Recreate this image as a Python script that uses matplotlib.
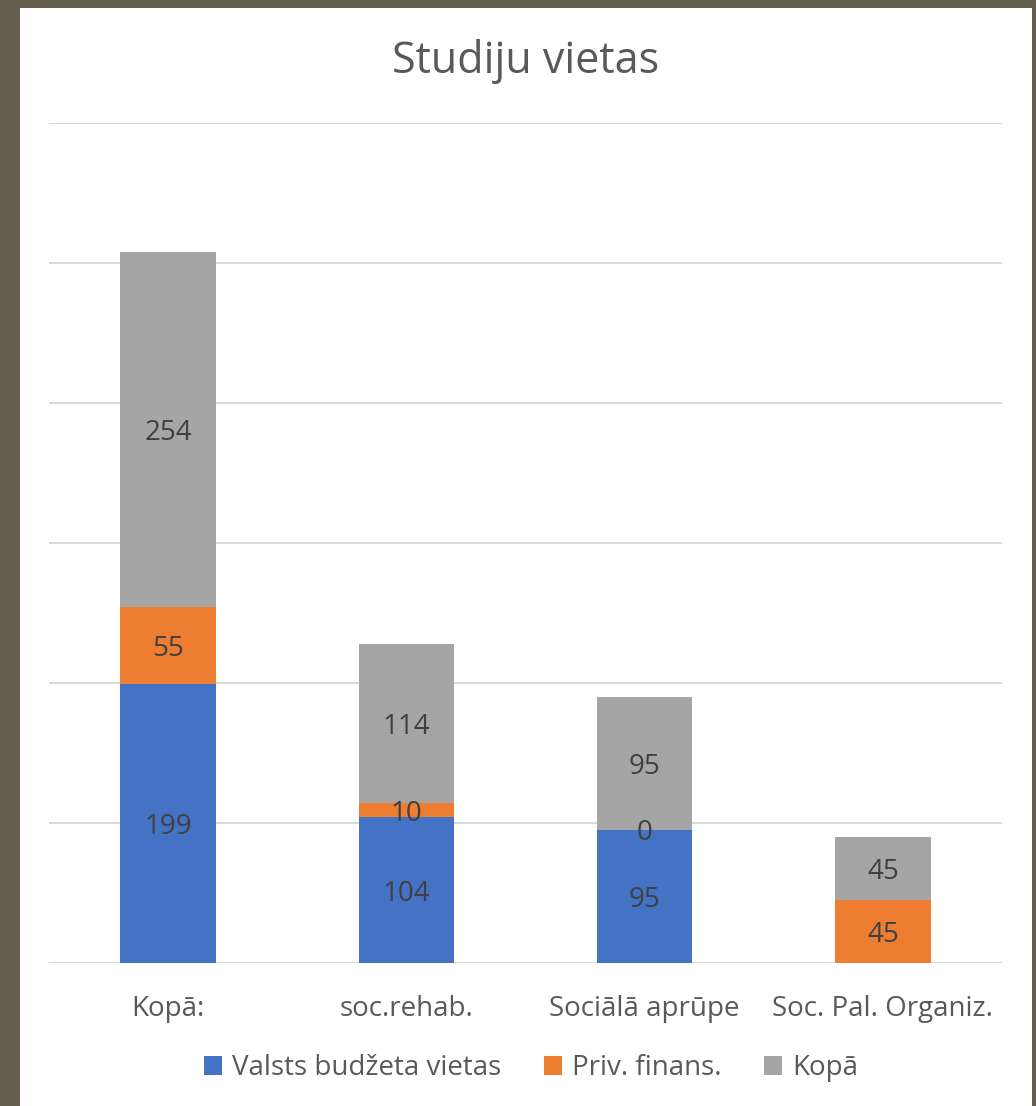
import numpy as np
import matplotlib.pyplot as plt
from matplotlib.patches import Rectangle

plt.rcParams['font.family'] = ['Open Sans', 'DejaVu Sans']

# dati
kategorijas = ['Kopā:', 'soc.rehab.', 'Sociālā aprūpe', 'Soc. Pal. Organiz.']
valsts = [199, 104, 95, np.nan]
priv = [55, 10, 0, 45]
kopa = [254, 114, 95, 45]
serijas = ['Valsts budžeta vietas', 'Priv. finans.', 'Kopā']
krasas = ['#4472C4', '#ED7D31', '#A5A5A5']

W, H = 1036, 1106
fig = plt.figure(figsize=(W / 100, H / 100), dpi=100)
fig.patch.set_facecolor('#655E4E')
fig.patches.append(Rectangle((20 / W, 0), (1032 - 20) / W, (1098) / H,
                             transform=fig.transFigure, facecolor='white',
                             edgecolor='none', zorder=-10))

ax = fig.add_axes([49 / W, (H - 963) / H, (1002 - 49) / W, (963 - 123) / H])
ax.set_facecolor('none')

x = np.arange(len(kategorijas))
bottom = np.zeros(len(x))
for vals, nos, kr in zip([valsts, priv, kopa], serijas, krasas):
    v = np.nan_to_num(np.array(vals, dtype=float))
    ax.bar(x, v, 0.4, bottom=bottom, color=kr, label=nos, zorder=2)
    for xi, b, val, orig in zip(x, bottom, v, vals):
        if not np.isnan(orig):
            ax.text(xi, b + val / 2, f'{int(orig)}', ha='center', va='center_baseline',
                    fontsize=20, color='#404040', zorder=3)
    bottom += v

ax.set_xlim(-0.5, 3.5)
ax.set_ylim(0, 600)
ax.set_yticks(np.arange(0, 601, 100))
ax.yaxis.grid(True, color='#D9D9D9', linewidth=1.5, zorder=0)
ax.set_axisbelow(True)
ax.tick_params(axis='y', left=False, labelleft=False)
ax.tick_params(axis='x', length=0, pad=23, labelsize=20, labelcolor='#595959')
ax.set_xticks(x)
ax.set_xticklabels(kategorijas)
for s in ax.spines.values():
    s.set_visible(False)

fig.text(526 / W, 1 - 62 / H, 'Studiju vietas', ha='center', va='center',
         fontsize=31, color='#595959')

leg = fig.legend(loc='center', bbox_to_anchor=(531 / W, 1 - 1068 / H), ncol=3,
                 frameon=False, fontsize=20, handlelength=0.65, handleheight=0.65,
                 handletextpad=0.35, columnspacing=1.55, labelcolor='#595959')

fig.savefig('out.png', dpi=100)
